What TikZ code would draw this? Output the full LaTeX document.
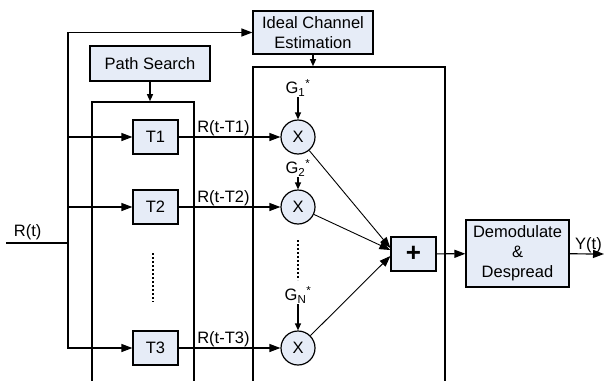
\documentclass[tikz,border=0pt]{standalone}
\usepackage{fontspec}
\setmainfont{Liberation Sans}
\usetikzlibrary{arrows.meta,calc}
\definecolor{boxfill}{RGB}{230,236,247}
\tikzset{
  every node/.style={font=\fontsize{16.5}{20}\selectfont},
  blk/.style={draw, line width=1.2pt, fill=boxfill, inner sep=0pt, align=center},
  frame/.style={draw, line width=1.6pt, inner sep=0pt},
  mult/.style={draw, circle, line width=1.2pt, fill=boxfill, minimum size=34pt, inner sep=0pt},
  arr/.style={line width=1.2pt, -{Triangle[length=11pt,width=8pt]}},
  sarr/.style={line width=1.2pt, -{Triangle[length=7pt,width=6pt]}},
  wire/.style={line width=1.2pt},
  lbl/.style={inner sep=0.5pt},
  dotline/.style={line width=2pt, dash pattern=on 2pt off 2pt},
}
\begin{document}
\begin{tikzpicture}[x=1pt,y=-1pt]
\clip (0,0) rectangle (604,380);
\useasboundingbox (0,0) rectangle (604,380);

% open-ended frames for the delay bank and the combiner
\node[frame, minimum width=102pt, minimum height=318pt] (dbox) at (143,261) {};
\node[frame, minimum width=192pt, minimum height=353pt] (mbox) at (349,243.5) {};

% control blocks
\node[blk, minimum width=120pt, minimum height=43pt] (ice) at (313,32.5) {Ideal Channel\\Estimation};
\node[blk, minimum width=120pt, minimum height=35pt] (ps) at (150,63.5) {Path Search};

% delay taps
\node[blk, minimum width=45pt, minimum height=34pt] (t1) at (155.5,137) {T1};
\node[blk, minimum width=45pt, minimum height=34pt] (t2) at (155.5,207) {T2};
\node[blk, minimum width=45pt, minimum height=34pt] (t3) at (155.5,348) {T3};

% multipliers and weights
\node[mult] (m1) at (298,137) {X};
\node[mult] (m2) at (298,207) {X};
\node[mult] (m3) at (298,348) {X};
\node[lbl] (g1) at (298,88) {G\textsubscript{1}\textsuperscript{*}};
\node[lbl] (g2) at (298,168) {G\textsubscript{2}\textsuperscript{*}};
\node[lbl] (gn) at (298,295) {G\textsubscript{N}\textsuperscript{*}};

% combiner and back end
\node[blk, minimum width=45pt, minimum height=34pt, font=\fontsize{26}{26}\selectfont\bfseries] (sum) at (413.5,254) {+};
\node[blk, minimum width=103pt, minimum height=67pt] (dem) at (517.5,253.5) {Demodulate\\\&\\Despread};

% input distribution
\coordinate (rin) at (6,243);
\coordinate (split) at (68,243);
\coordinate (yout) at (604,254);
\draw[wire] (rin) -- node[lbl, above, pos=0.35, yshift=2pt] {R(t)} (split);
\draw[arr] (split) |- (ice);
\draw[arr] (split) |- (t1);
\draw[arr] (split) |- (t2);
\draw[arr] (split) |- (t3);

% control arrows
\draw[sarr] (ice.south) -- (ice.south |- mbox.north);
\draw[sarr] (ps.south) -- (ps.south |- dbox.north);

% delayed signals
\draw[arr] (t1) -- node[lbl, above, pos=0.44] {R(t-T1)} (m1);
\draw[arr] (t2) -- node[lbl, above, pos=0.44] {R(t-T2)} (m2);
\draw[arr] (t3) -- node[lbl, above, pos=0.44] {R(t-T3)} (m3);

% weights
\draw[sarr] (g1) -- (m1);
\draw[sarr] (g2) -- (m2);
\draw[sarr] (gn) -- (m3);

% omitted taps
\coordinate (da) at (153,253);
\coordinate (db) at (153,302);
\coordinate (dc) at (298,240);
\coordinate (dd) at (298,280);
\draw[dotline] (da) -- (db);
\draw[dotline] (dc) -- (dd);

% summation
\draw[arr, line width=0.9pt] (m1) -- ($(sum.west)+(0,-6)$);
\draw[arr, line width=0.9pt] (m2) -- ($(sum.west)+(0,-4)$);
\draw[arr, line width=0.9pt] (m3) -- ($(sum.west)+(0,2)$);

\draw[arr] (sum) -- (dem);
\draw[arr] (dem) -- node[lbl, above, pos=0.55] {Y(t)} (yout);
\end{tikzpicture}
\end{document}
